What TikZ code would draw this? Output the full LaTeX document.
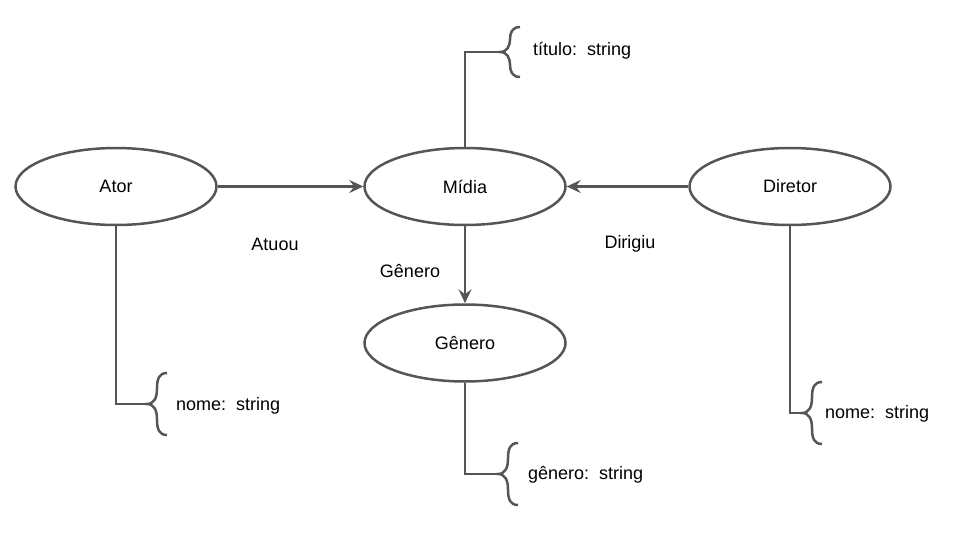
\documentclass[tikz,border=0pt]{standalone}
\usepackage{fontspec}
\setmainfont{Liberation Sans}
\usetikzlibrary{shapes.geometric,arrows.meta}
\definecolor{lc}{HTML}{555555}
\tikzset{
  ent/.style={ellipse,draw=lc,line width=2.5pt,minimum width=201pt,minimum height=77pt,inner sep=0pt,font=\fontsize{18}{21}\selectfont},
  conn/.style={draw=lc,line width=2.7pt},
  arr/.style={conn,-{Stealth[length=14pt,width=13pt,inset=5pt]}},
  lbl/.style={font=\fontsize{18}{21}\selectfont,inner sep=0pt},
  attr/.style={font=\fontsize{18}{21}\selectfont,inner sep=0pt,anchor=west},
  pics/attrbrace/.style={code={
    \draw[conn,line width=2.5pt] (20,{-#1}) .. controls (12,{-#1}) and (10,{-#1+6}) .. (10,{-#1/2})
      .. controls (10,-6) and (7,0) .. (0,0)
      .. controls (7,0) and (10,6) .. (10,{#1/2})
      .. controls (10,{#1-6}) and (12,{#1}) .. (20,{#1});
  }}
}
\begin{document}
\begin{tikzpicture}[x=1pt,y=-1pt]
\useasboundingbox (0,0) rectangle (960,540);
\node[ent] (ator) at (116,186.5) {Ator};
\node[ent] (midia) at (465,186.5) {Mídia};
\node[ent] (diretor) at (790,186.5) {Diretor};
\node[ent] (genero) at (465,343) {Gênero};

\draw[arr] (ator.east) -- (midia.west);
\draw[arr] (diretor.west) -- (midia.east);
\draw[arr] (midia.south) -- (genero.north);

\node[lbl] (latuou) at (275,244) {Atuou};
\node[lbl] (ldirigiu) at (630,244) {Dirigiu};
\node[lbl] (lgenero) at (410,271) {Gênero};

% attributes
\coordinate (tM) at (500,52);
\draw[conn] (midia.north) |- (tM);
\pic at (tM) {attrbrace=25};
\node[attr] (aM) at (533,51) {título:\ \ string};

\coordinate (tA) at (147,404);
\draw[conn] (ator.south) |- (tA);
\pic at (tA) {attrbrace=31};
\node[attr] (aA) at (176,406) {nome:\ \ string};

\coordinate (tD) at (802,413);
\draw[conn] (diretor.south) |- (tD);
\pic at (tD) {attrbrace=31};
\node[attr] (aD) at (825,414) {nome:\ \ string};

\coordinate (tG) at (498,474);
\draw[conn] (genero.south) |- (tG);
\pic at (tG) {attrbrace=31};
\node[attr] (aG) at (528,475) {gênero:\ \ string};
\end{tikzpicture}
\end{document}
